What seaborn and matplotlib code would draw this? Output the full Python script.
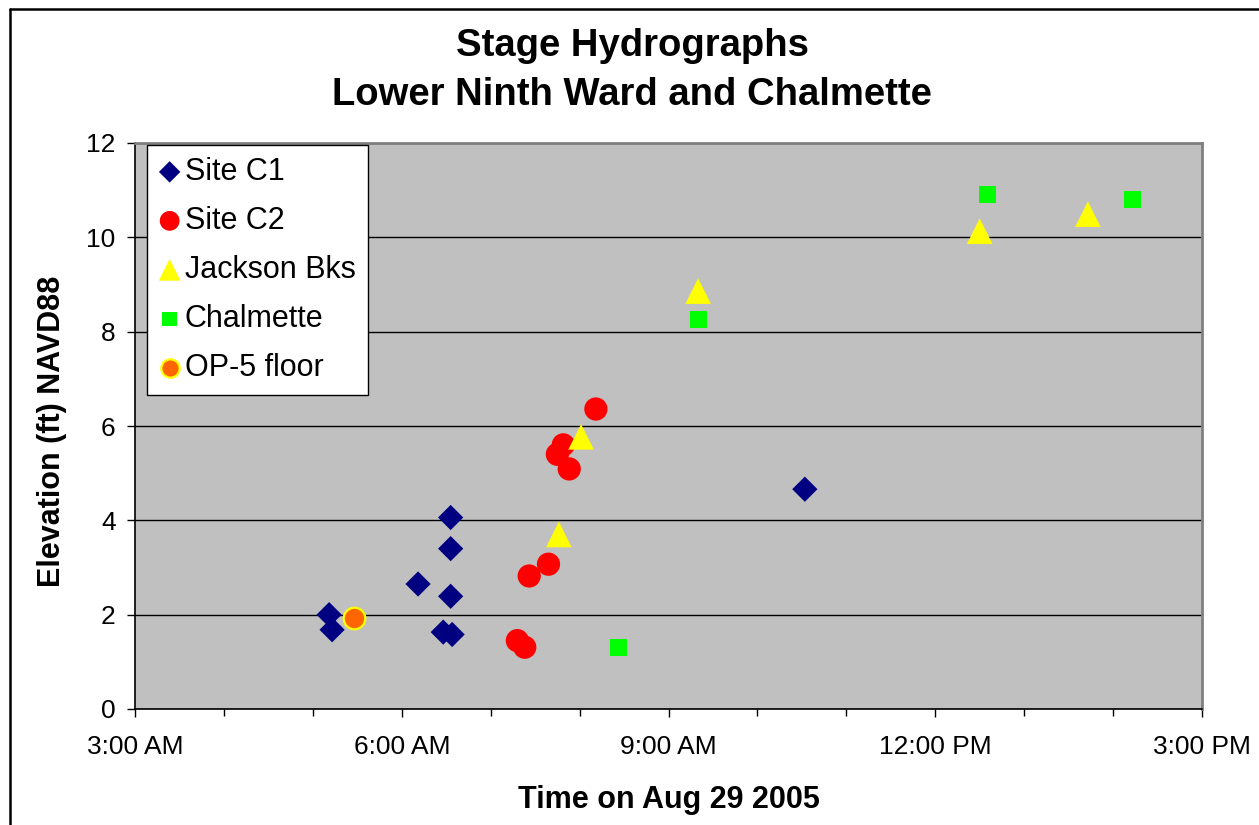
import pandas as pd
import matplotlib
matplotlib.use("Agg")
import matplotlib.pyplot as plt
import matplotlib.dates as mdates
from matplotlib.lines import Line2D
import seaborn as sns

# readings on Aug 29 2005 (time of day, elevation ft NAVD88)
day = "2005-08-29 "
c1_time = ["05:11", "05:13", "06:11", "06:33", "06:33", "06:33", "06:28", "06:34", "10:32"]
c1_elev = [2.0, 1.68, 2.65, 4.06, 3.40, 2.39, 1.63, 1.58, 4.66]

c2_time = ["07:18", "07:23", "07:26", "07:39", "08:11", "07:49", "07:45", "07:53"]
c2_elev = [1.45, 1.31, 2.82, 3.07, 6.36, 5.60, 5.40, 5.09]

jackson_time = ["07:46", "08:01", "09:20", "12:30", "13:43"]
jackson_elev = [3.70, 5.77, 8.86, 10.13, 10.49]

chalmette_time = ["08:26", "09:20", "12:35", "14:13"]
chalmette_elev = [1.31, 8.25, 10.91, 10.81]

op5_time = ["05:28"]
op5_elev = [1.92]


def to_dt(times):
    return pd.to_datetime([day + t for t in times])


sns.set_style("white")
plt.rcParams['font.family'] = ['Liberation Sans', 'DejaVu Sans']
plt.rcParams['text.color'] = 'black'
plt.rcParams['axes.labelcolor'] = 'black'
plt.rcParams['xtick.color'] = 'black'
plt.rcParams['ytick.color'] = 'black'

fig = plt.figure(figsize=(12.59, 8.25), dpi=100)
ax = fig.add_axes([135 / 1259, 116 / 825, 1067 / 1259, 566 / 825])
ax.set_facecolor("#C0C0C0")

sns.scatterplot(x=to_dt(c1_time), y=c1_elev, marker="D", s=165, color="#000080",
                edgecolor="none", label="Site C1", ax=ax, zorder=3)
sns.scatterplot(x=to_dt(c2_time), y=c2_elev, marker="o", s=280, color="#FF0000",
                edgecolor="none", label="Site C2", ax=ax, zorder=3)
sns.scatterplot(x=to_dt(jackson_time), y=jackson_elev, marker="^", s=340, color="#FFFF00",
                edgecolor="none", label="Jackson Bks", ax=ax, zorder=3)
sns.scatterplot(x=to_dt(chalmette_time), y=chalmette_elev, marker="s", s=150, color="#00FF00",
                edgecolor="none", label="Chalmette", ax=ax, zorder=3)
sns.scatterplot(x=to_dt(op5_time), y=op5_elev, marker="o", s=240, color="#FF6600",
                edgecolor="#FFFF00", linewidth=1.6, label="OP-5 floor", ax=ax, zorder=3)

ax.set_xlim(pd.Timestamp(day + "03:00"), pd.Timestamp(day + "15:00"))
ax.set_ylim(0, 12)
ax.set_yticks(range(0, 13, 2))
ax.yaxis.grid(True, color="black", linewidth=1.0)
ax.set_axisbelow(True)

ax.xaxis.set_major_locator(mdates.HourLocator(byhour=[3, 6, 9, 12, 15]))
ax.xaxis.set_minor_locator(mdates.HourLocator())
ax.xaxis.set_major_formatter(mdates.DateFormatter("%-I:%M %p"))

ax.tick_params(axis="x", which="major", direction="out", length=6, width=1,
               labelsize=19, pad=13, bottom=True, color="black")
ax.tick_params(axis="x", which="minor", direction="out", length=5, width=1,
               bottom=True, color="black")
ax.tick_params(axis="y", direction="out", length=6, width=1, labelsize=19,
               pad=8, left=True, color="black")

for side in ["left", "bottom"]:
    ax.spines[side].set_color("black")
    ax.spines[side].set_linewidth(1.2)
for side in ["top", "right"]:
    ax.spines[side].set_color("#808080")
    ax.spines[side].set_linewidth(2)

ax.set_xlabel("Time on Aug 29 2005", fontsize=22, fontweight="bold")
ax.set_ylabel("Elevation (ft) NAVD88", fontsize=22, fontweight="bold")
ax.xaxis.set_label_coords(0.5, -0.161)
ax.xaxis.label.set_va("center")
ax.yaxis.set_label_coords(-0.078, 0.49)
ax.yaxis.label.set_va("center")

leg = ax.legend(loc="upper left", bbox_to_anchor=(0.011, 0.997), borderaxespad=0,
                fontsize=22, frameon=True, fancybox=False, framealpha=1,
                edgecolor="black", labelspacing=0.62, handletextpad=0.15,
                handlelength=0.7, borderpad=0.4, markerscale=0.85)
leg.get_frame().set_linewidth(1.0)

fig.text(632 / 1259, 1 - 46 / 825, "Stage Hydrographs", ha="center", va="center",
         fontsize=27.5, fontweight="bold")
fig.text(632 / 1259, 1 - 95 / 825, "Lower Ninth Ward and Chalmette", ha="center",
         va="center", fontsize=27.5, fontweight="bold")

# chart area border
fig.add_artist(Line2D([10 / 1259, 10 / 1259], [0, 1 - 9 / 825], color="black", linewidth=1.8))
fig.add_artist(Line2D([10 / 1259, 1], [1 - 9 / 825, 1 - 9 / 825], color="black", linewidth=1.8))

fig.savefig("out.png", dpi=100, facecolor="white")
